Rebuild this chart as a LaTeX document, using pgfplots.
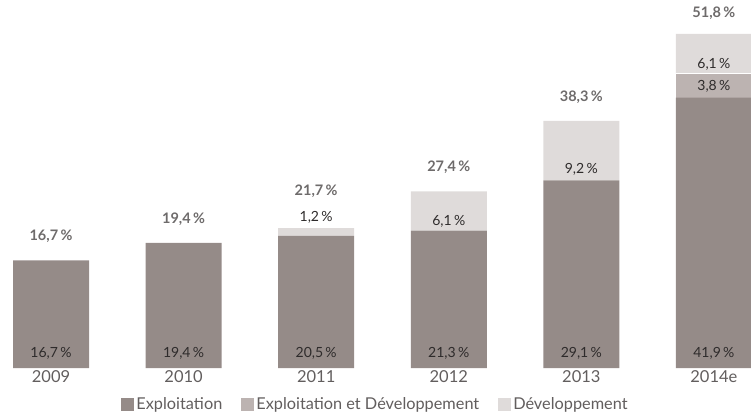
\documentclass[border=0pt]{standalone}
\usepackage{pgfplots}
\pgfplotsset{compat=1.18}
\usepackage{fontspec}
\setmainfont{Lato}
\definecolor{cA}{HTML}{958B88}
\definecolor{cB}{HTML}{BCB3B1}
\definecolor{cC}{HTML}{DFDBDA}
\definecolor{tot}{HTML}{6E6B6B}
\definecolor{seg}{HTML}{2E2B2B}
\definecolor{tick}{HTML}{625E5E}
\tikzset{tl/.style={font=\bfseries\fontsize{14.5}{16}\selectfont, text=tot},
         sl/.style={font=\fontsize{14}{16}\selectfont, text=seg}}
\begin{document}
\begin{tikzpicture}
\useasboundingbox (0pt,-45pt) rectangle (751pt,368pt);
\begin{axis}[
  at={(0pt,0pt)}, anchor=south west,
  scale only axis, width=751pt, height=368pt,
  xmin=-0.385, xmax=5.28, ymin=0, ymax=57.05,
  ybar stacked, bar width=76pt,
  axis line style={draw=none}, ytick=\empty,
  xtick={0,1,2,3,4,5},
  xticklabels={2009,2010,2011,2012,2013,2014e},
  major tick length=0pt,
  xticklabel style={font=\fontsize{16.5}{18}\selectfont, text=tick, yshift=1pt},
  /pgf/number format/assume math mode=true,
  legend style={draw=none, at={(0.5,-0.098)}, anchor=center, legend columns=3,
    font=\fontsize{16.3}{18}\selectfont, text=tick, inner sep=0pt,
    /tikz/every even column/.append style={column sep=17pt}},
  legend cell align=left,
]
\addplot[fill=cA, draw=none, legend image code/.code={\fill[cA] (2pt,-6.5pt) rectangle (15pt,6.5pt);}]
  coordinates {(0,16.7) (1,19.4) (2,20.5) (3,21.3) (4,29.1) (5,41.9)};
\addlegendentry{Exploitation}
\addplot[fill=cB, draw=none, legend image code/.code={\fill[cB] (2pt,-6.5pt) rectangle (15pt,6.5pt);}]
  coordinates {(0,0) (1,0) (2,0) (3,0) (4,0) (5,3.8)};
\addlegendentry{Exploitation et Développement}
\addplot[fill=cC, draw=none, legend image code/.code={\fill[cC] (2pt,-6.5pt) rectangle (15pt,6.5pt);}]
  coordinates {(0,0) (1,0) (2,1.2) (3,6.1) (4,9.2) (5,6.1)};
\addlegendentry{Développement}
\coordinate (T0) at (axis cs:0,16.7);
\coordinate (T1) at (axis cs:1,19.4);
\coordinate (T2) at (axis cs:2,21.7);
\coordinate (T3) at (axis cs:3,27.4);
\coordinate (T4) at (axis cs:4,38.3);
\coordinate (T5) at (axis cs:5,51.8);
\coordinate (B0) at (axis cs:0,0);
\coordinate (B1) at (axis cs:1,0);
\coordinate (B2) at (axis cs:2,0);
\coordinate (B3) at (axis cs:3,0);
\coordinate (B4) at (axis cs:4,0);
\coordinate (B5) at (axis cs:5,0);
\coordinate (D2) at (axis cs:2,21.7);
\coordinate (D3) at (axis cs:3,21.3);
\coordinate (D4) at (axis cs:4,29.1);
\coordinate (D5) at (axis cs:5,45.7);
\coordinate (E5) at (axis cs:5,43.8);
\coordinate (WL) at (axis cs:4.713,45.7);
\coordinate (WR) at (axis cs:5.287,45.7);
\end{axis}
\draw[white, line width=1.2pt] (WL) -- (WR);
\node[tl] at (T0) [yshift=24pt] {16,7\,\%};
\node[tl] at (T1) [yshift=24pt] {19,4\,\%};
\node[tl] at (T2) [yshift=37pt] {21,7\,\%};
\node[tl] at (T3) [yshift=24pt] {27,4\,\%};
\node[tl] at (T4) [yshift=24pt] {38,3\,\%};
\node[tl] at (T5) [yshift=21pt] {51,8\,\%};
\node[sl] at (B0) [yshift=15pt] {16,7\,\%};
\node[sl] at (B1) [yshift=15pt] {19,4\,\%};
\node[sl] at (B2) [yshift=15pt] {20,5\,\%};
\node[sl] at (B3) [yshift=15pt] {21,3\,\%};
\node[sl] at (B4) [yshift=15pt] {29,1\,\%};
\node[sl] at (B5) [yshift=15pt] {41,9\,\%};
\node[sl] at (D2) [yshift=11pt] {1,2\,\%};
\node[sl] at (D3) [yshift=9pt] {6,1\,\%};
\node[sl] at (D4) [yshift=11pt] {9,2\,\%};
\node[sl] at (D5) [yshift=9pt] {6,1\,\%};
\node[sl] at (E5) [yshift=-1pt] {3,8\,\%};
\end{tikzpicture}
\end{document}
